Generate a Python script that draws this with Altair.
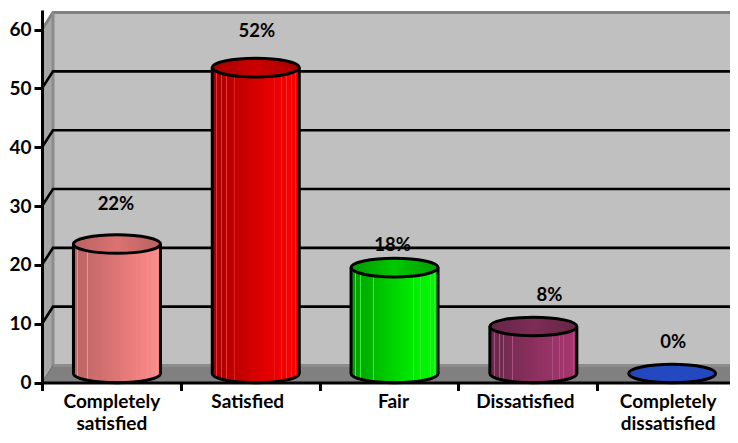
import altair as alt
import pandas as pd

categories = ["Completely satisfied", "Satisfied", "Fair", "Dissatisfied", "Completely dissatisfied"]
axis_lines = [["Completely", "satisfied"], ["Satisfied"], ["Fair"], ["Dissatisfied"], ["Completely", "dissatisfied"]]
values = [22, 52, 18, 8, 0]
value_labels = ["22%", "52%", "18%", "8%", "0%"]
y_ticks = [0, 10, 20, 30, 40, 50, 60]
gridline_values = [10, 20, 30, 40, 50]

# colours: (left, middle, right, top-cap left, top-cap right, stripe)
palette = [
    ("#B96464", "#E07474", "#FF8E8E", "#B86262", "#DB7272", "#EE9090"),
    ("#A00000", "#DC0000", "#FF0000", "#A80000", "#CC0000", "#F03030"),
    ("#009A00", "#00DC00", "#00FF00", "#009C00", "#00C800", "#30F030"),
    ("#662848", "#8E3060", "#A83670", "#642646", "#7E2C56", "#A85080"),
    ("#2448C0", "#2448C0", "#2448C0", "#2448C0", "#2448C0", "#2448C0"),
]

# layout, in page pixels
UX, UY = 138.8, 5.883
PLOT_W, PLOT_H = 688, 372.5
XMAX, YMAX = PLOT_W / UX, PLOT_H / UY
DX, DY = 11 / UX, 17 / UY          # depth of the 3-D box
CYL_W = 87 / UX
CYL_C = 0.54
BASE = 9 / UY                       # height of ellipse centre above the front floor edge
RY = 9.3 / 43.5
ELLIPSE = f"M-1,0 A1,{RY} 0 1,1 1,0 A1,{RY} 0 1,1 -1,0 Z"
label_dx_px = [-1, 1, -2, 16, 1]
label_dy_px = [40, 37, 23, 31, 32]
axis_label_dx_px = [0, -3, 4, -3, 1]

x_scale = alt.Scale(domain=[0, XMAX], nice=False, zero=False)
y_scale = alt.Scale(domain=[0, YMAX], nice=False, zero=False)


def X(**kw):
    return alt.X("x:Q", scale=x_scale, title=None, **kw)


def Y():
    return alt.Y("y:Q", scale=y_scale, title=None)


FONT = "Lato"
label_expr = "[" + ",".join(
    "[" + ",".join(f"'{w}'" for w in ws) + "]" for ws in axis_lines
) + "][floor(datum.value)]"

x_axis = alt.Axis(
    values=[i / 2 for i in range(10)],
    labelExpr=f"datum.value % 1 == 0 ? '' : {label_expr}",
    domainColor="black", domainWidth=3, tickColor="black", tickWidth=3, tickSize=8,
    tickOpacity={"condition": {"test": "datum.value % 1 == 0", "value": 1}, "value": 0},
    labelOffset={
        "condition": [
            {"test": f"datum.value == {i + 0.5}", "value": d} for i, d in enumerate(axis_label_dx_px)
        ],
        "value": 0,
    },
    labelFont=FONT, labelFontWeight="bold", labelFontSize=19, labelColor="black",
    labelPadding=2, labelLineHeight=21.5, labelOverlap=False, labelFlush=False, labelBound=False,
    grid=False, zindex=1,
)
y_axis = alt.Axis(
    values=y_ticks,
    domainColor="black", domainWidth=3, tickColor="black", tickWidth=3, tickSize=8,
    labelFont=FONT, labelFontWeight="bold", labelFontSize=19, labelColor="black",
    labelPadding=3, grid=False, zindex=1,
)

layers = []


def area(points, fill):
    df = pd.DataFrame(points, columns=["x", "y", "y2"])
    return alt.Chart(df).mark_area(fill=fill, stroke=None, interpolate="linear").encode(
        x=X(), y=Y(), y2="y2:Q"
    )


def line(points, color, width, group=None):
    df = pd.DataFrame(points, columns=["x", "y"])
    df["o"] = range(len(df))
    return alt.Chart(df).mark_line(color=color, strokeWidth=width).encode(
        x=X(), y=Y(), order="o:Q"
    )


# back wall (carries the axes)
wall = pd.DataFrame({"x": [DX], "x2": [XMAX], "y": [DY], "y2": [YMAX - 0.3]})
layers.append(
    alt.Chart(wall).mark_rect(fill="#C0C0C0").encode(
        x=alt.X("x:Q", scale=x_scale, title=None, axis=x_axis), x2="x2:Q",
        y=alt.Y("y:Q", scale=y_scale, title=None, axis=y_axis), y2="y2:Q",
    )
)
# left side wall and floor
layers.append(area([(0, 0, 60), (DX, DY, 60 + DY)], "#A6A6A6"))
layers.append(area([(0, 0, 0), (DX, 0, DY), (XMAX, 0, DY)], "#808080"))
# box edges
layers.append(line([(0, 60), (DX, 60 + DY), (XMAX, 60 + DY)], "#808080", 3))
layers.append(line([(DX, 60 + DY), (DX, DY), (XMAX, DY)], "#8C8C8C", 3))
layers.append(line([(0, 0), (DX, DY)], "#666666", 1))
# gridlines, with their slanted part on the side wall
for v in gridline_values:
    layers.append(line([(0, v), (DX, v + DY), (XMAX, v + DY)], "black", 2.6))


def gradient(left, mid, right, stripe=None):
    stops = [(0, left), (0.5, mid), (1, right)]
    out = []
    if stripe and left != right:
        def col(t):
            a, b = (left, mid) if t < 0.5 else (mid, right)
            f = t * 2 if t < 0.5 else (t - 0.5) * 2
            ca = [int(a[i:i + 2], 16) for i in (1, 3, 5)]
            cb = [int(b[i:i + 2], 16) for i in (1, 3, 5)]
            return "#%02X%02X%02X" % tuple(round(p + (q - p) * f) for p, q in zip(ca, cb))
        out.append((0, left))
        for c in (0.05, 0.11, 0.16, 0.26, 0.72, 0.8, 0.85, 0.91, 0.96):
            out += [(c - 0.005, col(c)), (c - 0.004, stripe), (c + 0.004, stripe), (c + 0.005, col(c))]
        out.insert(len(out) // 2, (0.5, mid))
        out.append((1, right))
    else:
        out = stops
    return alt.Gradient(
        gradient="linear", x1=0, y1=0, x2=1, y2=0,
        stops=[alt.GradientStop(color=c, offset=o) for o, c in out],
    )


for i, (cat, v) in enumerate(zip(categories, values)):
    left, mid, right, cap_l, cap_r, stripe = palette[i]
    cx = i + CYL_C
    top = BASE + v
    body_fill = gradient(left, mid, right, stripe)
    cap_fill = gradient(cap_l, cap_l if cap_l == cap_r else cap_r, cap_l)
    pt_base = pd.DataFrame({"x": [cx], "y": [BASE], "cat": [cat]})
    pt_top = pd.DataFrame({"x": [cx], "y": [top], "cat": [cat]})
    sz = (87) ** 2
    if v > 0:
        layers.append(
            alt.Chart(pt_base).mark_point(
                shape=ELLIPSE, size=sz, fill=body_fill, filled=True, stroke="black",
                strokeWidth=3, opacity=1,
            ).encode(x=X(), y=Y())
        )
        body = pd.DataFrame({
            "x": [cx - CYL_W / 2], "x2": [cx + CYL_W / 2], "y": [BASE], "y2": [top], "cat": [cat],
        })
        layers.append(
            alt.Chart(body).mark_rect(fill=body_fill).encode(x=X(), x2="x2:Q", y=Y(), y2="y2:Q")
        )
        sides = pd.DataFrame({
            "x": [cx - CYL_W / 2, cx + CYL_W / 2], "y": [BASE, BASE], "y2": [top, top],
        })
        layers.append(
            alt.Chart(sides).mark_rule(color="black", strokeWidth=3).encode(x=X(), y=Y(), y2="y2:Q")
        )
    layers.append(
        alt.Chart(pt_top).mark_point(
            shape=ELLIPSE, size=sz, fill=cap_fill, filled=True, stroke="black",
            strokeWidth=3, opacity=1,
        ).encode(x=X(), y=Y())
    )

labels = pd.DataFrame({
    "x": [i + CYL_C + dx / UX for i, dx in enumerate(label_dx_px)],
    "y": [BASE + v + dy / UY for v, dy in zip(values, label_dy_px)],
    "t": value_labels,
})
layers.append(
    alt.Chart(labels).mark_text(
        font=FONT, fontWeight="bold", fontSize=18.5, color="black", align="center", baseline="middle"
    ).encode(x=X(), y=Y(), text="t:N")
)

chart = alt.layer(*layers).properties(
    width=PLOT_W, height=PLOT_H,
    padding={"left": 34, "top": 2, "right": 0, "bottom": 52},
    autosize=alt.AutoSizeParams(type="none"),
    background="white",
).configure_view(stroke=None)

chart.save("out.html", embed_options={"renderer": "svg", "actions": False})
